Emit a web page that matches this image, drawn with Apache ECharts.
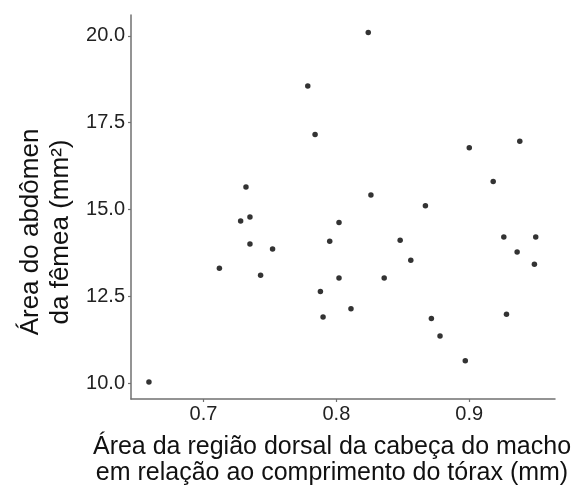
<!DOCTYPE html>
<html>
<head>
<meta charset="utf-8">
<script src="https://cdn.jsdelivr.net/npm/echarts@6/dist/echarts.min.js"></script>
<style>html,body{margin:0;padding:0;background:#fff;}#c{width:579px;height:488px;}</style>
</head>
<body>
<div id="c"></div>
<script>
var xValues = [0.659,0.712,0.728,0.732,0.735,0.735,0.743,0.752,0.7785,0.784,0.788,0.790,0.795,0.802,0.802,0.811,0.824,0.826,0.836,0.848,0.856,0.867,0.8715,0.878,0.897,0.900,0.918,0.926,0.928,0.936,0.938,0.949,0.950];
var yValues = [10.04,13.31,14.67,15.65,14.79,14.01,13.11,13.87,18.56,17.16,12.64,11.91,14.09,14.63,13.03,12.15,20.10,15.42,13.03,14.12,13.54,15.11,11.87,11.36,10.65,16.78,15.81,14.21,11.99,13.78,16.97,13.43,14.21];
var xTicks = [0.7, 0.8, 0.9];
var yTicks = [10, 12.5, 15, 17.5, 20];
var xTitle = ['Área da região dorsal da cabeça do macho', 'em relação ao comprimento do tórax (mm)'];
var yTitle = ['Área do abdômen', 'da fêmea (mm²)'];

var FONT = '"Liberation Sans", Arial, Helvetica, sans-serif';
var pts = xValues.map(function (x, i) { return [x, yValues[i]]; });
var axisColor = '#707070';
var chart = echarts.init(document.getElementById('c'), null, {renderer: 'canvas'});
chart.setOption({
  backgroundColor: '#ffffff',
  animation: false,
  grid: {left: 131, right: 24, top: 15, bottom: 89},
  xAxis: {
    type: 'value', min: 0.6455, max: 0.9645,
    axisLine: {show: true, onZero: false, lineStyle: {color: axisColor, width: 1.5}},
    axisTick: {show: true, length: 3, customValues: xTicks, lineStyle: {color: axisColor, width: 1.2}},
    axisLabel: {customValues: xTicks, margin: 5, fontSize: 20, color: '#222', fontFamily: FONT,
      formatter: function (v) { return v.toFixed(1); }},
    splitLine: {show: false}
  },
  yAxis: {
    type: 'value', min: 9.55, max: 20.6,
    axisLine: {show: true, onZero: false, lineStyle: {color: axisColor, width: 1.5}},
    axisTick: {show: true, length: 3, customValues: yTicks, lineStyle: {color: axisColor, width: 1.2}},
    axisLabel: {customValues: yTicks, margin: 6, fontSize: 20, color: '#222', fontFamily: FONT,
      formatter: function (v) { return v.toFixed(1); }},
    splitLine: {show: false}
  },
  graphic: [
    {type: 'text', x: 332, y: 447, style: {text: xTitle[0], font: '25px ' + FONT, fill: '#111', textAlign: 'center', textVerticalAlign: 'middle'}},
    {type: 'text', x: 332, y: 473, style: {text: xTitle[1], font: '25px ' + FONT, fill: '#111', textAlign: 'center', textVerticalAlign: 'middle'}},
    {type: 'text', x: 31, y: 232, rotation: Math.PI / 2, style: {text: yTitle[0], font: '26px ' + FONT, fill: '#111', textAlign: 'center', textVerticalAlign: 'middle'}},
    {type: 'text', x: 61, y: 232, rotation: Math.PI / 2, style: {text: yTitle[1], font: '26px ' + FONT, fill: '#111', textAlign: 'center', textVerticalAlign: 'middle'}}
  ],
  series: [{
    type: 'scatter', data: pts, symbol: 'circle', symbolSize: 5.5,
    itemStyle: {color: '#000'}
  }]
});
</script>
</body>
</html>
